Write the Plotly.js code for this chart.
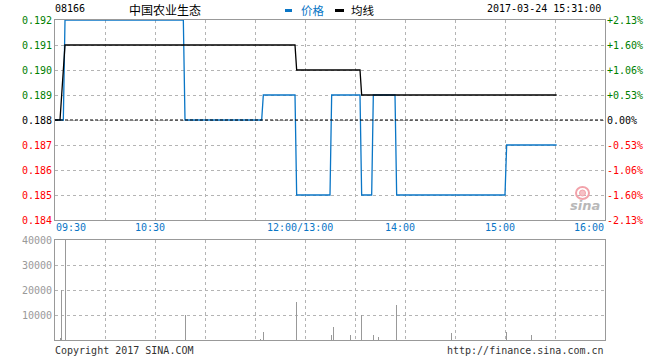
<!DOCTYPE html>
<html>
<head>
<meta charset="utf-8">
<script src="https://cdn.plot.ly/plotly-3.0.1.min.js"></script>
<style>html,body{margin:0;padding:0;background:#fff;}#chart{width:660px;height:360px;}</style>
</head>
<body>
<div id="chart"></div>
<script>
// ---- data (minutes since 09:30, lunch break removed) ----
const priceMin = [0, 5, 6, 77, 78, 124, 125, 144, 145, 165, 166, 183, 184, 190, 191, 204, 205, 270, 271, 301];
const priceVal = [0.188, 0.188, 0.192, 0.192, 0.188, 0.188, 0.189, 0.189, 0.185, 0.185, 0.189, 0.189, 0.185, 0.185, 0.189, 0.189, 0.185, 0.185, 0.187, 0.187];
const avgMin = [0, 3, 4, 5, 6, 144, 145, 183, 184, 301];
const avgVal = [0.188, 0.188, 0.189, 0.190, 0.191, 0.191, 0.190, 0.190, 0.189, 0.189];
const volMin = [3, 4, 6, 78, 123, 125, 145, 166, 167, 177, 184, 191, 194, 205, 238, 271, 286];
const volVal = [800, 20000, 40000, 10000, 500, 3300, 15300, 2000, 5300, 2000, 10000, 2000, 1200, 14000, 2700, 3300, 2000];
const priceTicks = [0.192, 0.191, 0.190, 0.189, 0.188, 0.187, 0.186, 0.185, 0.184];
const priceTickText = ['0.192', '0.191', '0.190', '0.189', '0.188', '0.187', '0.186', '0.185', '0.184'];
const pctTickText = ['+2.13%', '+1.60%', '+1.06%', '+0.53%', '0.00%', '-0.53%', '-1.06%', '-1.60%', '-2.13%'];
const volTicks = [40000, 30000, 20000, 10000];
const volTickText = ['40000', '30000', '20000', '10000'];
const timeTickVals = [0, 60, 150, 210, 270, 330];
const timeTickText = ['09:30', '10:30', '12:00/13:00', '14:00', '15:00', '16:00'];
const prevClose = 0.188;
const stockCode = '08166';
const stockName = '中国农业生态';
const stamp = '2017-03-24 15:31:00';

// ---- layout helpers (pixel -> paper) ----
const L = 55, R = 605, T = 20, B = 340;
const px = v => (v - L) / (R - L);
const py = v => (B - v) / (B - T);
const mono = 'DejaVu Sans Mono, monospace';
const cjk = 'Noto Sans CJK SC, sans-serif';
const blue = '#0a76c6';
const grid = '#b4b4b4';

function labelColor(v) {
  if (v > prevClose + 1e-9) return '#008000';
  if (v < prevClose - 1e-9) return '#ff0000';
  return '#000000';
}

const annotations = [];
priceTicks.forEach((v, i) => {
  annotations.push({xref: 'paper', yref: 'y', x: px(53), y: v, xanchor: 'right', yanchor: 'middle',
    text: priceTickText[i], showarrow: false, font: {family: mono, size: 10, color: labelColor(v)}, borderpad: 0});
  annotations.push({xref: 'paper', yref: 'y', x: px(606), y: v, xanchor: 'left', yanchor: 'middle',
    text: pctTickText[i], showarrow: false, font: {family: mono, size: 10, color: labelColor(v)}, borderpad: 0});
});
volTicks.forEach((v, i) => {
  annotations.push({xref: 'paper', yref: 'y2', x: px(53), y: v, xanchor: 'right', yanchor: 'middle',
    text: volTickText[i], showarrow: false, font: {family: mono, size: 10, color: '#999999'}, borderpad: 0});
});
timeTickVals.forEach((v, i) => {
  let anchor = 'center', shift = -5;
  if (i === 0) { anchor = 'left'; shift = 0; }
  if (i === timeTickVals.length - 1) { anchor = 'right'; shift = 0; }
  annotations.push({xref: 'x', yref: 'paper', x: v, y: py(227), xanchor: anchor, yanchor: 'middle', xshift: shift,
    text: timeTickText[i], showarrow: false, font: {family: mono, size: 10, color: blue}, borderpad: 0});
});
// header
annotations.push({xref: 'paper', yref: 'paper', x: px(54), y: py(8.5), xanchor: 'left', yanchor: 'middle',
  text: stockCode, showarrow: false, font: {family: mono, size: 10, color: '#000'}, borderpad: 0});
annotations.push({xref: 'paper', yref: 'paper', x: px(165), y: py(9.5), xanchor: 'center', yanchor: 'middle',
  text: stockName, showarrow: false, font: {family: cjk, size: 12, color: '#000'}, borderpad: 0});
annotations.push({xref: 'paper', yref: 'paper', x: px(300), y: py(10), xanchor: 'left', yanchor: 'middle',
  text: '价格', showarrow: false, font: {family: cjk, size: 11.5, color: blue}, borderpad: 0});
annotations.push({xref: 'paper', yref: 'paper', x: px(350), y: py(10), xanchor: 'left', yanchor: 'middle',
  text: '均线', showarrow: false, font: {family: cjk, size: 11.5, color: '#000'}, borderpad: 0});
annotations.push({xref: 'paper', yref: 'paper', x: px(602), y: py(8.5), xanchor: 'right', yanchor: 'middle',
  text: stamp, showarrow: false, font: {family: mono, size: 10, color: '#000'}, borderpad: 0});
// footer
annotations.push({xref: 'paper', yref: 'paper', x: px(54), y: py(350), xanchor: 'left', yanchor: 'middle',
  text: 'Copyright 2017 SINA.COM', showarrow: false, font: {family: mono, size: 10, color: '#333'}, borderpad: 0});
annotations.push({xref: 'paper', yref: 'paper', x: px(605), y: py(350), xanchor: 'right', yanchor: 'middle',
  text: 'http://finance.sina.com.cn', showarrow: false, font: {family: mono, size: 10, color: '#333'}, borderpad: 0});
// sina watermark
annotations.push({xref: 'paper', yref: 'paper', x: px(585), y: py(205), xanchor: 'center', yanchor: 'middle',
  text: '<b><i>sina</i></b>', showarrow: false, font: {family: 'DejaVu Sans, sans-serif', size: 13, color: '#b8b8b8'}, borderpad: 0});

const shapes = [
  {type: 'line', xref: 'x', yref: 'y', x0: 0, x1: 330, y0: prevClose, y1: prevClose,
    line: {color: '#000', width: 1, dash: '3px,2px'}},
  {type: 'line', xref: 'paper', yref: 'paper', x0: px(285), x1: px(292), y0: py(10.5), y1: py(10.5),
    line: {color: blue, width: 3}},
  {type: 'line', xref: 'paper', yref: 'paper', x0: px(335), x1: px(344), y0: py(10.5), y1: py(10.5),
    line: {color: '#000', width: 3}},
  {type: 'circle', xref: 'paper', yref: 'paper', x0: px(576), x1: px(589), y0: py(199), y1: py(187),
    line: {color: '#f2a2aa', width: 2}, fillcolor: 'rgba(0,0,0,0)'},
  {type: 'circle', xref: 'paper', yref: 'paper', x0: px(579.5), x1: px(585.5), y0: py(196), y1: py(190),
    line: {color: '#f2a2aa', width: 1}, fillcolor: '#f6c0c5'}
];

const traces = [
  {x: volMin, y: volVal, type: 'bar', xaxis: 'x2', yaxis: 'y2', width: 0.6,
    marker: {color: '#999999', line: {width: 0}}, hoverinfo: 'skip'},
  {x: priceMin, y: priceVal, type: 'scatter', mode: 'lines', xaxis: 'x', yaxis: 'y',
    line: {color: blue, width: 1.3, shape: 'linear'}, hoverinfo: 'skip'},
  {x: avgMin, y: avgVal, type: 'scatter', mode: 'lines', xaxis: 'x', yaxis: 'y',
    line: {color: '#000', width: 1.3, shape: 'linear'}, hoverinfo: 'skip'}
];

const axBase = {showline: true, mirror: true, linecolor: '#999999', linewidth: 1,
  showgrid: true, gridcolor: grid, griddash: 'dot', gridwidth: 1,
  zeroline: false, ticks: '', showticklabels: false, fixedrange: true};

const layout = {
  width: 660, height: 360,
  margin: {l: L, r: 660 - R, t: T, b: 360 - B, pad: 0},
  paper_bgcolor: '#fff', plot_bgcolor: '#fff',
  showlegend: false,
  bargap: 0,
  xaxis: Object.assign({}, axBase, {range: [0, 330], dtick: 30, tick0: 0, anchor: 'y'}),
  xaxis2: Object.assign({}, axBase, {range: [0, 330], dtick: 30, tick0: 0, anchor: 'y2', matches: 'x'}),
  yaxis: Object.assign({}, axBase, {range: [0.184, 0.192], dtick: 0.001, tick0: 0.184, domain: [py(220), 1], anchor: 'x'}),
  yaxis2: Object.assign({}, axBase, {range: [0, 40000], dtick: 10000, tick0: 0, domain: [0, py(240)], anchor: 'x2'}),
  annotations: annotations,
  shapes: shapes
};

Plotly.newPlot('chart', traces, layout, {displayModeBar: false, staticPlot: true});
</script>
</body>
</html>
